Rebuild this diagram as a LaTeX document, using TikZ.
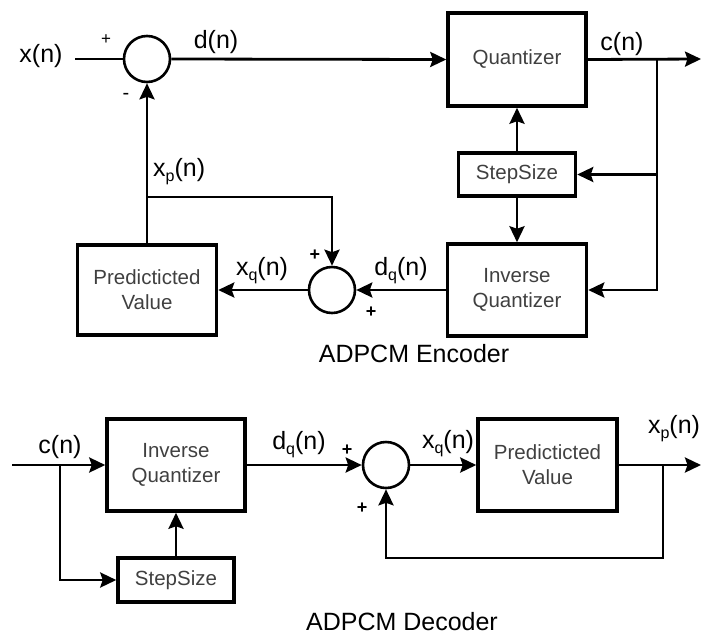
\documentclass[tikz,border=0pt]{standalone}
\usepackage{fontspec}
\setmainfont{Liberation Sans}
\usetikzlibrary{arrows.meta}
\newcommand\lowsub[1]{\raisebox{-5pt}{\fontsize{16}{16}\selectfont #1}}
\begin{document}
\begin{tikzpicture}[x=1pt,y=-1pt,
  blk/.style={draw, line width=3.5pt, inner sep=0pt, align=center,
    font=\fontsize{20.5}{25}\selectfont, text=black!75},
  sumnode/.style={draw, circle, line width=2.6pt, minimum size=46pt, inner sep=0pt},
  wire/.style={line width=2.8pt},
  arr/.style={wire, -{Stealth[length=16pt,width=15pt,inset=2.5pt]}},
  lbl/.style={font=\fontsize{25}{28}\selectfont, inner sep=0pt},
  sgn/.style={font=\fontsize{18}{18}\selectfont\bfseries, inner sep=0pt},
  title/.style={font=\fontsize{25}{28}\selectfont, inner sep=0pt}]
\useasboundingbox (0,0) rectangle (703,635);

% ---------------- encoder ----------------
\node[sumnode] (s1) at (147,59) {};
\node[blk, minimum width=138pt, minimum height=93pt] (q) at (517,59.5) {Quantizer};
\node[blk, minimum width=117pt, minimum height=43pt] (ss) at (517,174.5) {StepSize};
\node[blk, minimum width=139pt, minimum height=92pt] (iq) at (517,290) {Inverse\\Quantizer};
\node[sumnode] (s2) at (332,290) {};
\node[blk, minimum width=139pt, minimum height=90pt] (pv) at (147,290) {Predicticted\\Value};

\coordinate (xin) at (75,59);
\coordinate (cout) at (701,59);
\coordinate (j1) at (657,59);
\coordinate (j2) at (147,197);

\draw[wire] (xin) -- (s1.west);
\draw[arr] (s1.east) -- (q.west);
\draw[arr] (q.east) -- (cout);
\draw[arr] (j1) |- (iq.east);
\draw[arr] (j1 |- ss.east) -- (ss.east);
\draw[arr] (ss.north) -- (q.south);
\draw[arr] (ss.south) -- (iq.north);
\draw[arr] (iq.west) -- (s2.east);
\draw[arr] (s2.west) -- (pv.east);
\draw[arr] (pv.north) -- (s1.south);
\draw[arr] (j2) -| (s2.north);

\node[lbl] (lx) at (41,56) {x(n)};
\node[lbl] (ld) at (216,42) {d(n)};
\node[lbl] (lc) at (622,44) {c(n)};
\node[lbl, anchor=west] (lxp) at (153,172) {x\lowsub{p}(n)};
\node[lbl] (lxq) at (262,271) {x\lowsub{q}(n)};
\node[lbl] (ldq) at (401,271) {d\lowsub{q}(n)};
\node[sgn, font=\fontsize{17}{17}\selectfont] (p1) at (106,40) {+};
\node[sgn, font=\fontsize{20}{20}\selectfont] (m1) at (126,96) {-};
\node[sgn] (p2) at (315,255) {+};
\node[sgn] (p3) at (371,312) {+};
\node[title] (tenc) at (414,354) {ADPCM Encoder};

% ---------------- decoder ----------------
\node[blk, minimum width=138pt, minimum height=92pt] (iq2) at (176,465) {Inverse\\Quantizer};
\node[blk, minimum width=116pt, minimum height=44pt] (ss2) at (176,580) {StepSize};
\node[sumnode] (s3) at (386,465) {};
\node[blk, minimum width=139pt, minimum height=92pt] (pv2) at (547.5,465) {Predicticted\\Value};

\coordinate (cin) at (12,465);
\coordinate (j3) at (60,465);
\coordinate (xout) at (701,465);
\coordinate (j4) at (663,465);
\coordinate (fb) at (663,558);

\draw[arr] (cin) -- (iq2.west);
\draw[arr] (j3) |- (ss2.west);
\draw[arr] (ss2.north) -- (iq2.south);
\draw[arr] (iq2.east) -- (s3.west);
\draw[arr] (s3.east) -- (pv2.west);
\draw[arr] (pv2.east) -- (xout);
\draw[arr] (j4) -- (fb) -| (s3.south);

\node[lbl] (lc2) at (60,447) {c(n)};
\node[lbl] (ldq2) at (299,445) {d\lowsub{q}(n)};
\node[lbl] (lxq2) at (448,444) {x\lowsub{q}(n)};
\node[lbl] (lxp2) at (674,429) {x\lowsub{p}(n)};
\node[sgn] (p4) at (347,450) {+};
\node[sgn] (p5) at (362,508) {+};
\node[title] (tdec) at (402,622) {ADPCM Decoder};
\end{tikzpicture}
\end{document}
